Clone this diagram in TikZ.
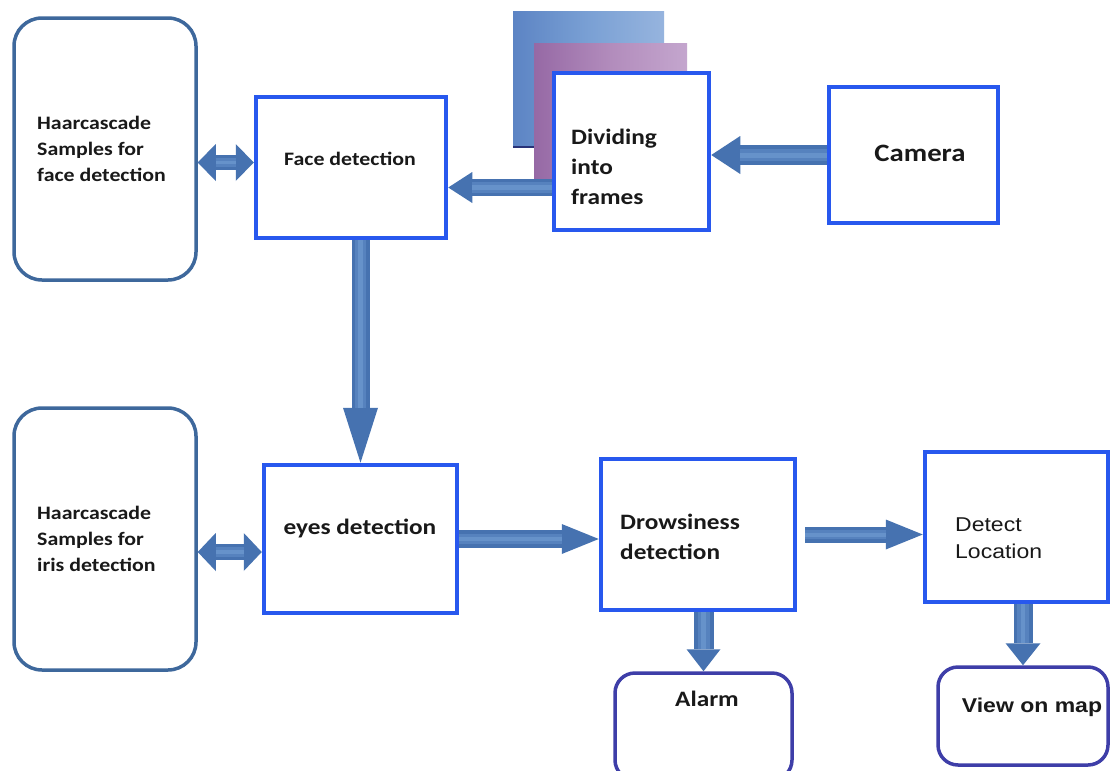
\documentclass[tikz,border=0pt]{standalone}
\usepackage{fontspec}
\setmainfont{Carlito}[FakeStretch=1.15]
\newfontfamily\arialf{Liberation Sans}[FakeStretch=1.15]
\usetikzlibrary{arrows.meta,calc}
\definecolor{boxblue}{RGB}{40,88,238}
\definecolor{haarc}{RGB}{62,104,156}
\definecolor{outc}{RGB}{62,62,168}
\definecolor{arrdark}{RGB}{70,114,176}
\definecolor{arrmid}{RGB}{86,130,190}
\definecolor{arrlight}{RGB}{102,146,202}
\definecolor{txtc}{RGB}{25,25,25}
\definecolor{fbA}{RGB}{92,132,196}
\definecolor{fbB}{RGB}{122,160,212}
\definecolor{fbC}{RGB}{150,180,222}
\definecolor{fpA}{RGB}{150,105,165}
\definecolor{fpB}{RGB}{178,140,188}
\definecolor{fpC}{RGB}{196,166,206}
\definecolor{navyedge}{RGB}{40,50,120}
\newcommand\fatarr[5]{%
  \draw[arrdark, line width=#3pt, -{Triangle[length=#4pt,width=#5pt,line width=0pt]}] #1 -- #2;
  \draw[arrmid, line width=0.6*#3pt, shorten >=#4pt] #1 -- #2;
  \draw[arrlight, line width=0.25*#3pt, shorten >=#4pt] #1 -- #2;}
\newcommand\fatdbl[5]{%
  \draw[arrdark, line width=#3pt, {Triangle[length=#4pt,width=#5pt,line width=0pt]}-{Triangle[length=#4pt,width=#5pt,line width=0pt]}] #1 -- #2;
  \draw[arrmid, line width=0.6*#3pt, shorten >=#4pt, shorten <=#4pt] #1 -- #2;
  \draw[arrlight, line width=0.25*#3pt, shorten >=#4pt, shorten <=#4pt] #1 -- #2;}
\begin{document}
\begin{tikzpicture}[x=1pt,y=-1pt,
  bbox/.style={draw=boxblue, line width=4.5pt, fill=white, inner sep=0pt},
  hbox/.style={draw=haarc, line width=3.5pt, fill=white, rounded corners=28pt, inner sep=0pt},
  obox/.style={draw=outc, line width=3.5pt, fill=white, rounded corners=20pt, inner sep=0pt},
  txt/.style={inner sep=0pt, text=txtc, align=left, font=\fontsize{19}{26}\selectfont\bfseries},
  txtb/.style={inner sep=0pt, text=txtc, align=left, font=\fontsize{22}{30}\selectfont\bfseries},
  txta/.style={inner sep=0pt, text=txtc, align=left, font=\arialf\fontsize{20}{27}\selectfont}]
\clip (0,0) rectangle (1111,771);
\fill[white] (0,0) rectangle (1111,771);

% frame stack behind
\shade[left color=fbA, right color=fbC, middle color=fbB] (513,11) rectangle (664,147);
\draw[navyedge, line width=2pt] (513,147) -- (534,147);
\shade[left color=fpA, right color=fpC, middle color=fpB] (534,43) rectangle (687,182);

% boxes
\node[hbox, minimum width=182pt, minimum height=262pt] (haar1) at (105,149) {};
\node[bbox, minimum width=190pt, minimum height=141pt] (face) at (351,167.5) {};
\node[bbox, minimum width=155pt, minimum height=157pt] (frames) at (631.5,151.5) {};
\node[bbox, minimum width=169pt, minimum height=136pt] (cam) at (913.5,155) {};
\node[hbox, minimum width=182pt, minimum height=262pt] (haar2) at (105,539) {};
\node[bbox, minimum width=193pt, minimum height=148pt] (eyes) at (360.5,539) {};
\node[bbox, minimum width=194pt, minimum height=151pt] (drowsy) at (698,534.5) {};
\node[bbox, minimum width=183pt, minimum height=150pt] (detect) at (1016.5,527) {};
\node[obox, minimum width=177pt, minimum height=107pt] (alarm) at (703.5,726.5) {};
\node[obox, minimum width=170pt, minimum height=98pt] (view) at (1023,716) {};

% helper coordinates
\coordinate (fa) at ($(frames.west)+(0,36)$);
\coordinate (h1) at ($(face.west)+(0,-5)$);
\coordinate (h2) at ($(eyes.west)+(0,13)$);
\coordinate (dd) at ($(drowsy.east)+(8,0)$);

% connectors
\fatarr{(cam.west)}{(frames.east |- cam.west)}{20}{29}{38}
\fatarr{(fa)}{(face.east |- fa)}{17}{24}{31}
\fatdbl{(haar1.east |- h1)}{(h1)}{15}{18}{37}
\fatarr{(face.south -| eyes.north)}{(eyes.north)}{18}{55}{35}
\fatdbl{(haar2.east |- h2)}{(h2)}{16}{18}{38}
\fatarr{(eyes.east)}{(drowsy.west |- eyes.east)}{18}{37}{30}
\fatarr{(dd)}{(detect.west |- dd)}{16}{37}{30}
\fatarr{(drowsy.south -| alarm.north)}{(alarm.north)}{20}{22}{34}
\fatarr{(detect.south -| view.north)}{(view.north)}{19}{22}{35}

% texts
\node[txt, anchor=west] (t1) at (37,149) {Haarcascade\\Samples for\\face detection};
\node[txt] (t2) at (350,159) {Face detection};
\node[txtb, anchor=west] (t3) at (571,167) {Dividing\\into\\frames};
\node[inner sep=0pt, text=txtc, font=\fontsize{25}{30}\selectfont\bfseries] (t4) at (920,153) {Camera};
\node[txt, anchor=west] (t5) at (37,539) {Haarcascade\\Samples for\\iris detection};
\node[txtb] (t6) at (360,528) {eyes detection};
\node[txtb, anchor=west] (t7) at (620,537) {Drowsiness\\detection};
\node[txta, anchor=west] (t8) at (955,538) {Detect\\Location};
\node[txtb] (t9) at (707,699) {Alarm};
\node[txta, font=\arialf\fontsize{20}{27}\selectfont\bfseries] (t10) at (1032,707) {View on map};
\end{tikzpicture}
\end{document}
